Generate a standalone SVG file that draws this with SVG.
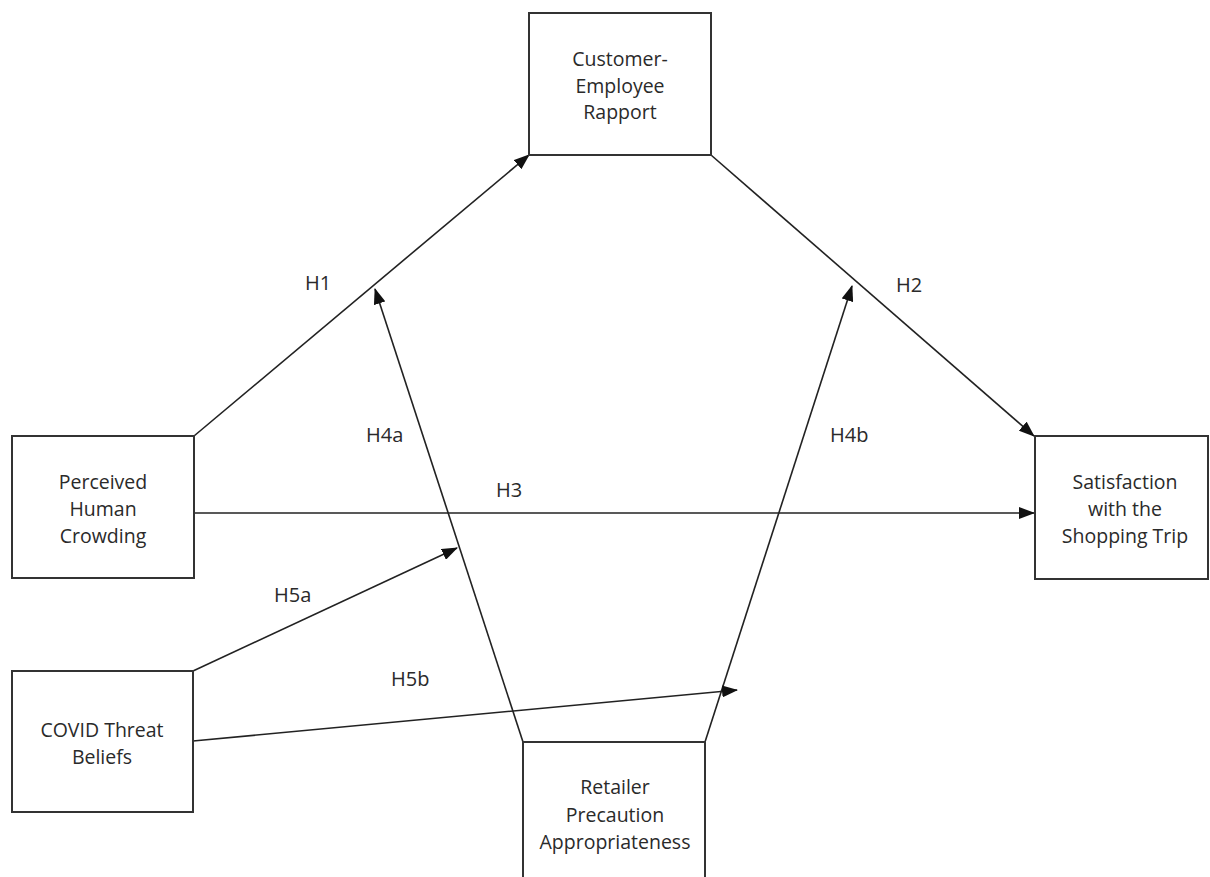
<svg xmlns="http://www.w3.org/2000/svg" width="1210" height="877" viewBox="0 0 1210 877">
<style>
.box{fill:#fff;stroke:#333;stroke-width:2}
.t{font-family:"Open Sans","Liberation Sans",sans-serif;font-size:19.5px;fill:#2a2a2a;text-anchor:middle}
.lbl{font-family:"Open Sans","Liberation Sans",sans-serif;font-size:20px;fill:#2a2a2a}
.c{stroke:#222;stroke-width:1.6;fill:none;marker-end:url(#ah)}
</style>
<defs>
<marker id="ah" markerWidth="16" markerHeight="12" refX="15" refY="6" orient="auto" markerUnits="userSpaceOnUse">
<path d="M0,0 L16,6 L0,12 Z" fill="#111"/>
</marker>
</defs>
<rect width="1210" height="877" fill="#fff"/>
<g id="connectors">
<line class="c" x1="194" y1="436" x2="529" y2="155"/>
<line class="c" x1="711" y1="155" x2="1034" y2="436"/>
<line class="c" x1="194" y1="513" x2="1034" y2="513"/>
<line class="c" x1="523" y1="742" x2="375" y2="289"/>
<line class="c" x1="705" y1="742" x2="852" y2="286"/>
<line class="c" x1="193" y1="671" x2="457" y2="548"/>
<line class="c" x1="193" y1="741" x2="737" y2="690"/>
</g>
<g id="labels">
<text class="lbl" x="305" y="290">H1</text>
<text class="lbl" x="896" y="292">H2</text>
<text class="lbl" x="496" y="497">H3</text>
<text class="lbl" x="366" y="442">H4a</text>
<text class="lbl" x="830" y="442">H4b</text>
<text class="lbl" x="274" y="602">H5a</text>
<text class="lbl" x="391" y="686">H5b</text>
</g>
<g id="rapport">
<rect class="box" x="529" y="13" width="182" height="142"/>
<text class="t" x="620" y="66">Customer-</text>
<text class="t" x="620" y="93">Employee</text>
<text class="t" x="620" y="119">Rapport</text>
</g>
<g id="crowding">
<rect class="box" x="12" y="436" width="182" height="142"/>
<text class="t" x="103" y="489">Perceived</text>
<text class="t" x="103" y="516">Human</text>
<text class="t" x="103" y="543">Crowding</text>
</g>
<g id="satisfaction">
<rect class="box" x="1035" y="436" width="173" height="143"/>
<text class="t" x="1125" y="489">Satisfaction</text>
<text class="t" x="1125" y="516">with the</text>
<text class="t" x="1125" y="543">Shopping Trip</text>
</g>
<g id="covid">
<rect class="box" x="12" y="671" width="181" height="141"/>
<text class="t" x="102" y="737">COVID Threat</text>
<text class="t" x="102" y="764">Beliefs</text>
</g>
<g id="retailer">
<rect class="box" x="523" y="742" width="182" height="145"/>
<text class="t" x="615" y="794">Retailer</text>
<text class="t" x="615" y="822">Precaution</text>
<text class="t" x="615" y="849">Appropriateness</text>
</g>
</svg>
